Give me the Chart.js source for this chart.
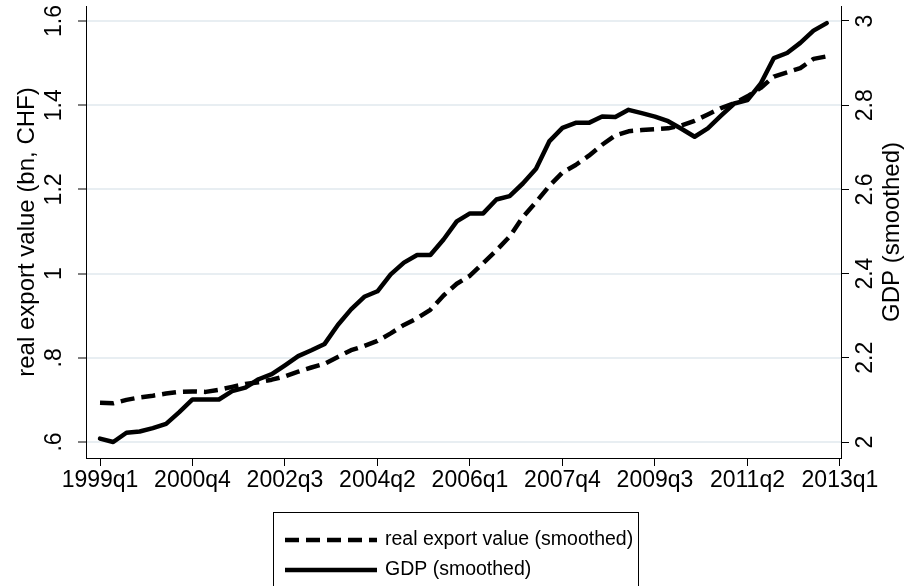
<!DOCTYPE html>
<html>
<head>
<meta charset="utf-8">
<title>Exports and GDP</title>
<script src="https://cdn.jsdelivr.net/npm/chart.js@4.4.0/dist/chart.umd.min.js"></script>
<style>
    html, body { margin: 0; padding: 0; background: #fff; }
    canvas { display: block; }
</style>
</head>
<body>
<canvas id="exportGdpChart" width="904" height="586"></canvas>
<script>
// quarter names 1999q1 .. 2013q4, the x axis runs on their index
const quarters = [];
for (let y = 1999; y <= 2013; y++) {
    for (let q = 1; q <= 4; q++) quarters.push(y + 'q' + q);
}
const xTickLabels = ['1999q1', '2000q4', '2002q3', '2004q2', '2006q1', '2007q4', '2009q3', '2011q2', '2013q1'];
const leftTicks = [0.6, 0.8, 1, 1.2, 1.4, 1.6];
const rightTicks = [2, 2.2, 2.4, 2.6, 2.8, 3];

// real export value (bn CHF), smoothed, 1999q1 - 2012q4
const exportValue = [
    0.693, 0.692, 0.700, 0.706, 0.710, 0.715, 0.719, 0.720, 0.719, 0.724,
    0.731, 0.738, 0.742, 0.748, 0.756, 0.767, 0.777, 0.786, 0.802, 0.818,
    0.828, 0.840, 0.858, 0.878, 0.894, 0.914, 0.948, 0.976, 0.995, 1.025,
    1.055, 1.088, 1.134, 1.170, 1.208, 1.240, 1.258, 1.280, 1.306, 1.328,
    1.338, 1.341, 1.343, 1.345, 1.352, 1.363, 1.378, 1.393, 1.405, 1.421,
    1.441, 1.468, 1.478, 1.488, 1.510, 1.516
];

// GDP, smoothed (right axis)
const gdp = [
    2.008, 2.000, 2.022, 2.025, 2.033, 2.043, 2.071, 2.101, 2.101, 2.101,
    2.121, 2.129, 2.149, 2.161, 2.182, 2.204, 2.218, 2.233, 2.278, 2.315,
    2.345, 2.358, 2.398, 2.426, 2.444, 2.444, 2.481, 2.524, 2.543, 2.543,
    2.576, 2.584, 2.614, 2.649, 2.714, 2.746, 2.758, 2.758, 2.773, 2.772,
    2.789, 2.781, 2.773, 2.762, 2.744, 2.725, 2.745, 2.775, 2.804, 2.812,
    2.851, 2.912, 2.924, 2.948, 2.977, 2.995
];

const FONT = "'Liberation Sans', Arial, Helvetica, sans-serif";
const GRID = '#e8eef2';

const toPoints = arr => arr.map((v, i) => ({ x: i, y: v }));

// stata style number: .6 instead of 0.6
function stataNum(v) {
    return String(+v.toFixed(2)).replace(/^0\./, '.');
}

// y tick labels and axis titles are drawn rotated, reading upwards
const rotatedText = {
    id: 'rotatedText',
    afterDraw(chart) {
        const ctx = chart.ctx;
        const yl = chart.scales.yLeft;
        const yr = chart.scales.yRight;
        const area = chart.chartArea;
        const mid = (area.top + area.bottom) / 2;

        function vText(txt, x, y, size) {
            ctx.save();
            ctx.translate(x, y);
            ctx.rotate(-Math.PI / 2);
            ctx.font = size + 'px ' + FONT;
            ctx.fillStyle = '#000';
            ctx.textAlign = 'center';
            ctx.textBaseline = 'middle';
            ctx.fillText(txt, 0, 0);
            ctx.restore();
        }

        leftTicks.forEach(v => vText(stataNum(v), 55, yl.getPixelForValue(v), 23));
        rightTicks.forEach(v => vText(stataNum(v), 866, yr.getPixelForValue(v), 23));
        vText('real export value (bn, CHF)', 27, mid, 24);
        vText('GDP (smoothed)', 892, mid, 24);
    }
};

// boxed legend under the plot, one row per series
const boxLegend = {
    id: 'boxLegend',
    afterDraw(chart) {
        const ctx = chart.ctx;
        ctx.save();
        ctx.strokeStyle = '#000';
        ctx.lineWidth = 1;
        ctx.strokeRect(273.5, 512.5, 365, 100);
        chart.data.datasets.forEach((ds, i) => {
            const y = 540 + i * 30;
            ctx.beginPath();
            ctx.setLineDash(ds.borderDash || []);
            ctx.lineWidth = ds.borderWidth;
            ctx.lineCap = 'butt';
            ctx.strokeStyle = ds.borderColor;
            ctx.moveTo(285, y);
            ctx.lineTo(377, y);
            ctx.stroke();
            ctx.setLineDash([]);
            ctx.fillStyle = '#000';
            ctx.font = '19.5px ' + FONT;
            ctx.textAlign = 'left';
            ctx.textBaseline = 'middle';
            ctx.fillText(ds.label, 385, y);
        });
        ctx.restore();
    }
};

const ctx = document.getElementById('exportGdpChart').getContext('2d');
const chart = new Chart(ctx, {
    type: 'line',
    data: {
        datasets: [
            {
                label: 'real export value (smoothed)',
                data: toPoints(exportValue),
                yAxisID: 'yLeft',
                borderColor: '#000',
                borderWidth: 4.5,
                borderDash: [14, 7],
                borderCapStyle: 'butt',
                borderJoinStyle: 'round',
                pointRadius: 0,
                tension: 0,
                fill: false
            },
            {
                label: 'GDP (smoothed)',
                data: toPoints(gdp),
                yAxisID: 'yRight',
                borderColor: '#000',
                borderWidth: 4.5,
                borderCapStyle: 'round',
                borderJoinStyle: 'round',
                pointRadius: 0,
                tension: 0,
                fill: false
            }
        ]
    },
    options: {
        responsive: false,
        animation: false,
        devicePixelRatio: 1,
        layout: { padding: { top: 6, left: 0, right: 0, bottom: 0 } },
        plugins: {
            legend: { display: false },
            tooltip: { enabled: false }
        },
        scales: {
            x: {
                type: 'linear',
                min: -1.06,
                max: 56.08,
                afterBuildTicks: scale => {
                    scale.ticks = xTickLabels.map(q => ({ value: quarters.indexOf(q) }));
                },
                afterFit: scale => { scale.height = 128; },
                ticks: {
                    autoSkip: false,
                    maxRotation: 0,
                    minRotation: 0,
                    padding: 1,
                    color: '#000',
                    font: { family: FONT, size: 23 },
                    callback: v => quarters[v]
                },
                grid: {
                    drawOnChartArea: false,
                    tickLength: 8,
                    tickColor: '#000',
                    tickWidth: 1
                },
                border: { color: '#000', width: 1 }
            },
            yLeft: {
                type: 'linear',
                position: 'left',
                min: 0.562,
                max: 1.6356,
                afterBuildTicks: scale => {
                    scale.ticks = leftTicks.map(v => ({ value: v }));
                },
                afterFit: scale => { scale.width = 86; },
                ticks: { display: false },
                grid: {
                    color: GRID,
                    lineWidth: 2,
                    tickLength: 8,
                    tickColor: '#000',
                    tickWidth: 1
                },
                border: { color: '#000', width: 1 }
            },
            yRight: {
                type: 'linear',
                position: 'right',
                min: 1.962,
                max: 3.0356,
                afterBuildTicks: scale => {
                    scale.ticks = rightTicks.map(v => ({ value: v }));
                },
                afterFit: scale => { scale.width = 63; },
                ticks: { display: false },
                grid: {
                    drawOnChartArea: false,
                    tickLength: 8,
                    tickColor: '#000',
                    tickWidth: 1
                },
                border: { color: '#000', width: 1 }
            }
        }
    },
    plugins: [rotatedText, boxLegend]
});
</script>
</body>
</html>
